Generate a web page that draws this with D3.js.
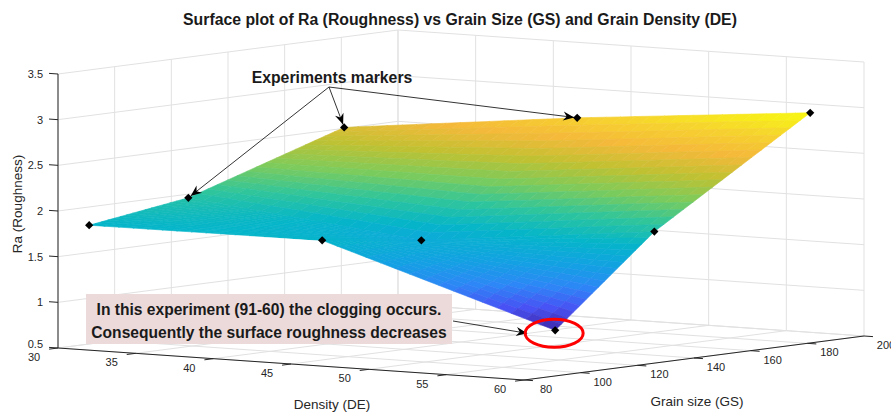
<!DOCTYPE html>
<html>
<head>
<meta charset="utf-8">
<script src="https://cdn.jsdelivr.net/npm/d3@7"></script>
<style>
body { margin: 0; background: #fff; }
text { font-family: "Liberation Sans", Arial, Helvetica, sans-serif; }
</style>
</head>
<body>
<script>
// measured values, rows = density, columns = grain size
var density = [30, 45, 60];
var grainSize = [91, 126, 181];
var raDE30 = [1.80, 1.96, 2.51];
var raDE45 = [1.81, 1.67, 2.79];
var raDE60 = [1.00, 1.94, 3.02];

var densityTicks = [30, 35, 40, 45, 50, 55, 60];
var grainTicks = [80, 100, 120, 140, 160, 180, 200];
var raTicks = [0.5, 1, 1.5, 2, 2.5, 3, 3.5];

var width = 891, height = 412;

// screen frame of the 3d box (orthographic view)
var origin = [58, 348];          // DE=30, GS=80, Ra=0.5
var dVec = [466, 32],
    gVec = [340, -44],
    zVec = [0, -274];

var xD = d3.scaleLinear().domain([30, 60]).range([0, 1]);
var yG = d3.scaleLinear().domain([80, 200]).range([0, 1]);
var zR = d3.scaleLinear().domain([0.5, 3.5]).range([0, 1]);

function proj(d, g, r) {
    var u = xD(d), v = yG(g), w = zR(r);
    return [origin[0] + u * dVec[0] + v * gVec[0] + w * zVec[0],
            origin[1] + u * dVec[1] + v * gVec[1] + w * zVec[1]];
}
// bigger = closer to the viewer
function depth(d, g, r) {
    return 338 * xD(d) - 464 * yG(g) + 26 * zR(r);
}

var grid = [raDE30, raDE45, raDE60];
var allRa = d3.merge(grid);

// parula
var parula = d3.piecewise(d3.interpolateRgb, [
    "#3e26a8", "#4852f4", "#2d87f6", "#12a2e2", "#05b5c9", "#2fc59c",
    "#7ccb5c", "#c0c132", "#f5b93a", "#f6d52e", "#f9fb0e"]);
var color = d3.scaleSequential(parula).domain(d3.extent(allRa));

var svg = d3.select("body").append("svg")
    .attr("width", width)
    .attr("height", height);

var line = d3.line();
var gridColor = "#e1e1e1", axisColor = "#262626";

// ---- grid on the back walls and floor
var gGrid = svg.append("g")
    .attr("fill", "none")
    .attr("stroke", gridColor)
    .attr("stroke-width", 1);

grainTicks.forEach(function(g) {
    gGrid.append("path").attr("d", line([proj(30, g, 0.5), proj(30, g, 3.5)]));
    gGrid.append("path").attr("d", line([proj(30, g, 0.5), proj(60, g, 0.5)]));
});
densityTicks.forEach(function(d) {
    gGrid.append("path").attr("d", line([proj(d, 200, 0.5), proj(d, 200, 3.5)]));
    gGrid.append("path").attr("d", line([proj(d, 80, 0.5), proj(d, 200, 0.5)]));
});
raTicks.forEach(function(r) {
    gGrid.append("path").attr("d", line([proj(30, 80, r), proj(30, 200, r), proj(60, 200, r)]));
});

// ---- axes
var gAxes = svg.append("g")
    .attr("fill", "none")
    .attr("stroke", axisColor)
    .attr("stroke-width", 1);

gAxes.append("path").attr("d", line([proj(30, 80, 0.5), proj(30, 80, 3.5)]));
gAxes.append("path").attr("d", line([proj(30, 80, 0.5), proj(60, 80, 0.5)]));
gAxes.append("path").attr("d", line([proj(60, 80, 0.5), proj(60, 200, 0.5)]));

function unit(v) { var n = Math.hypot(v[0], v[1]); return [v[0] / n, v[1] / n]; }
var tickLen = 9;
var uD = unit(dVec), uG = unit(gVec);

raTicks.forEach(function(r) {
    var p = proj(30, 80, r);
    gAxes.append("path").attr("d", line([p, [p[0] - uD[0] * tickLen, p[1] - uD[1] * tickLen]]));
});
densityTicks.forEach(function(d) {
    var p = proj(d, 80, 0.5);
    gAxes.append("path").attr("d", line([p, [p[0] - uG[0] * tickLen, p[1] - uG[1] * tickLen]]));
});
grainTicks.forEach(function(g) {
    var p = proj(60, g, 0.5);
    gAxes.append("path").attr("d", line([p, [p[0] + uD[0] * tickLen, p[1] + uD[1] * tickLen]]));
});

// tick labels
var gLab = svg.append("g")
    .attr("fill", axisColor)
    .attr("font-size", 11);

raTicks.forEach(function(r) {
    var p = proj(30, 80, r);
    gLab.append("text")
        .attr("x", p[0] - 15).attr("y", p[1] + (r === 0.5 ? 0 : 4))
        .attr("text-anchor", "end")
        .text(r);
});
densityTicks.forEach(function(d) {
    var p = proj(d, 80, 0.5);
    gLab.append("text")
        .attr("x", p[0] - 24).attr("y", p[1] + 13)
        .attr("text-anchor", "middle")
        .text(d);
});
grainTicks.forEach(function(g) {
    var p = proj(60, g, 0.5);
    gLab.append("text")
        .attr("x", p[0] + 22).attr("y", p[1] + 13)
        .attr("text-anchor", "middle")
        .text(g);
});

// axis titles
svg.append("text")
    .attr("transform", "translate(22,204) rotate(-90)")
    .attr("text-anchor", "middle")
    .attr("font-size", 13.5)
    .attr("fill", axisColor)
    .text("Ra (Roughness)");
svg.append("text")
    .attr("x", 332).attr("y", 409)
    .attr("text-anchor", "middle")
    .attr("font-size", 13.5)
    .attr("fill", axisColor)
    .text("Density (DE)");
svg.append("text")
    .attr("x", 697).attr("y", 406)
    .attr("text-anchor", "middle")
    .attr("font-size", 13.5)
    .attr("fill", axisColor)
    .text("Grain size (GS)");

svg.append("text")
    .attr("x", 460).attr("y", 25)
    .attr("text-anchor", "middle")
    .attr("font-size", 15.8)
    .attr("font-weight", "bold")
    .attr("fill", "#1a1a1a")
    .text("Surface plot of Ra (Roughness) vs Grain Size (GS) and Grain Density (DE)");

// ---- surface, each patch cut into small cells, painted back to front
var N = 16, cells = [];
for (var i = 0; i < density.length - 1; i++) {
    for (var j = 0; j < grainSize.length - 1; j++) {
        var r00 = grid[i][j], r01 = grid[i][j + 1], r10 = grid[i + 1][j], r11 = grid[i + 1][j + 1];
        var dd = d3.scaleLinear().domain([0, 1]).range([density[i], density[i + 1]]);
        var gg = d3.scaleLinear().domain([0, 1]).range([grainSize[j], grainSize[j + 1]]);
        var bil = function(s, t) {
            return r00 * (1 - s) * (1 - t) + r10 * s * (1 - t) + r01 * (1 - s) * t + r11 * s * t;
        };
        for (var a = 0; a < N; a++) {
            for (var b = 0; b < N; b++) {
                var s0 = a / N, s1 = (a + 1) / N, t0 = b / N, t1 = (b + 1) / N;
                var corners = [[s0, t0], [s1, t0], [s1, t1], [s0, t1]];
                var pts = corners.map(function(c) { return proj(dd(c[0]), gg(c[1]), bil(c[0], c[1])); });
                var sm = (s0 + s1) / 2, tm = (t0 + t1) / 2, rm = bil(sm, tm);
                cells.push({pts: pts, ra: rm, z: depth(dd(sm), gg(tm), rm)});
            }
        }
    }
}
cells.sort(function(p, q) { return p.z - q.z; });

svg.append("g").selectAll("path")
    .data(cells)
    .join("path")
    .attr("d", function(c) { return line(c.pts) + "Z"; })
    .attr("fill", function(c) { return color(c.ra); })
    .attr("stroke", function(c) { return color(c.ra); })
    .attr("stroke-width", 0.6)
    .attr("stroke-linejoin", "round");

// ---- experiment markers
var points = [];
density.forEach(function(d, i) {
    grainSize.forEach(function(g, j) {
        points.push({d: d, g: g, ra: grid[i][j], p: proj(d, g, grid[i][j])});
    });
});
svg.append("g").selectAll("path")
    .data(points)
    .join("path")
    .attr("transform", function(p) { return "translate(" + p.p[0] + "," + p.p[1] + ") rotate(45)"; })
    .attr("d", d3.symbol(d3.symbolSquare, 34))
    .attr("fill", "#000");

// ---- annotations
var defs = svg.append("defs");
defs.append("marker")
    .attr("id", "head")
    .attr("viewBox", "-12 -6 14 12")
    .attr("markerWidth", 14).attr("markerHeight", 12)
    .attr("markerUnits", "userSpaceOnUse")
    .attr("refX", 0).attr("refY", 0)
    .attr("orient", "auto")
    .append("path")
    .attr("d", "M0,0L-11,-4.5L-7.5,0L-11,4.5Z")
    .attr("fill", "#000");

var labelOrigin = [329, 87];
svg.append("text")
    .attr("x", 332).attr("y", 83)
    .attr("text-anchor", "middle")
    .attr("font-size", 15.8)
    .attr("font-weight", "bold")
    .attr("fill", "#1a1a1a")
    .text("Experiments markers");

var targets = [[30, 126], [30, 181], [45, 181]];
targets.forEach(function(t) {
    var i = density.indexOf(t[0]), j = grainSize.indexOf(t[1]);
    var p = proj(t[0], t[1], grid[i][j]);
    var u = unit([p[0] - labelOrigin[0], p[1] - labelOrigin[1]]);
    var tip = [p[0] - u[0] * 3, p[1] - u[1] * 3];
    svg.append("path")
        .attr("d", line([labelOrigin, tip]))
        .attr("stroke", "#000").attr("stroke-width", 0.8)
        .attr("fill", "none")
        .attr("marker-end", "url(#head)");
});

// clogging note
var low = points.filter(function(p) { return p.d === 60 && p.g === 91; })[0];
var box = {x: 86, y: 294, w: 366, h: 50};
svg.append("rect")
    .attr("x", box.x).attr("y", box.y)
    .attr("width", box.w).attr("height", box.h)
    .attr("fill", "#ecdada");
var note = svg.append("text")
    .attr("text-anchor", "middle")
    .attr("font-size", 15.6)
    .attr("font-weight", "bold")
    .attr("fill", "#1a1a1a");
note.append("tspan").attr("x", box.x + box.w / 2).attr("y", box.y + 21)
    .text("In this experiment (91-60) the clogging occurs.");
note.append("tspan").attr("x", box.x + box.w / 2).attr("y", box.y + 44)
    .text("Consequently the surface roughness decreases");

svg.append("path")
    .attr("d", line([[box.x + box.w + 1, box.y + 27], [low.p[0] - 28, low.p[1] + 3]]))
    .attr("stroke", "#000").attr("stroke-width", 0.8)
    .attr("fill", "none")
    .attr("marker-end", "url(#head)");

svg.append("ellipse")
    .attr("cx", low.p[0] - 1).attr("cy", low.p[1] + 3)
    .attr("rx", 29).attr("ry", 14)
    .attr("fill", "none")
    .attr("stroke", "#ff0000")
    .attr("stroke-width", 3);
</script>
</body>
</html>
